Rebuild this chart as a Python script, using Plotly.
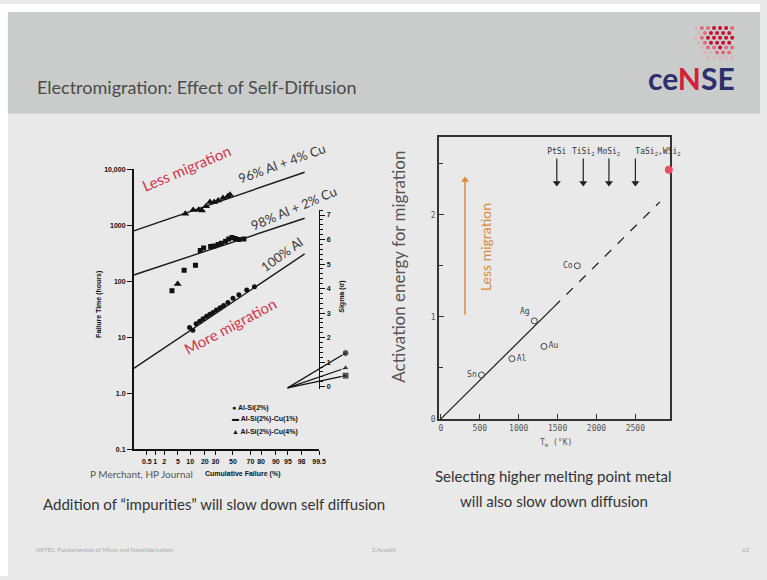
import plotly.graph_objects as go
from statistics import NormalDist

W, H = 767, 580
nd = NormalDist()

def z(p):
    return nd.inv_cdf(p / 100.0)

def px(x):
    return x / W

def py(y):
    return 1 - y / H

# ---------------- Left chart data (failure time vs cumulative failure) ----------------
pct_ticks = [0.5, 1, 2, 5, 10, 20, 30, 50, 70, 80, 90, 95, 98, 99.5]
pct_tick_text = ["0.5", "1", "2", "5", "10", "20", "30", "50", "70", "80", "90", "95", "98", "99.5"]
hrs_ticks = [0.1, 1, 10, 100, 1000, 10000]
hrs_tick_text = ["0.1", "1.0", "10", "100", "1000", "10,000"]

# Al-Si(2%)  (circles)
pct_circ = [9.7, 11.5, 13.5, 16, 18.5, 21.5, 24.5, 27.5, 31, 35, 39, 44, 50, 57, 66, 74]
hrs_circ = [15, 13.5, 17.5, 19.5, 21.5, 24, 26, 28, 31, 34, 37, 42, 50, 58, 70, 80]
# Al-Si(2%)-Cu(1%)  (squares)
pct_sq = [3.4, 7.2, 13.1, 16.4, 19, 25.2, 28.4, 32.9, 36.4, 41.2, 45, 48.8, 52.7, 57.2, 62.8]
hrs_sq = [68, 158, 194, 356, 397, 419, 431, 454, 479, 519, 571, 610, 586, 562, 571]
# Al-Si(2%)-Cu(4%)  (triangles)
pct_tri = [4.9, 7.7, 11.7, 15.3, 17.7, 21.1, 24.6, 28.8, 32.9, 38.3, 43.9, 46.5]
hrs_tri = [90, 1610, 1875, 1900, 1850, 2200, 2620, 2620, 2780, 3090, 3300, 3540]

# fitted lines (start / end)
pct_fit = [0.15, 98.4]
hrs_fit_4cu = [800, 8900]
hrs_fit_2cu = [130, 1340]
hrs_fit_al = [2.8, 310]

# sigma inset
sigma_vals = [1.37, 0.76, 0.45]
sigma_symbols = ["circle", "triangle-up", "square"]

# ---------------- Right chart data (activation energy vs Tm) ----------------
metals = ["Sn", "Al", "Ag", "Au", "Co"]
tm_metal = [522, 913, 1201, 1325, 1754]
ea_metal = [0.43, 0.59, 0.96, 0.71, 1.50]
metal_label_pos = ["middle left", "middle right", "top left", "middle right", "middle left"]

tm_fit_solid = [0, 1450]
ea_fit_solid = [0, 1.095]
tm_fit_dash = [1450, 2815]
ea_fit_dash = [1.095, 2.126]

silicides = ["PtSi", "TiSi<sub>2</sub>", "MoSi<sub>2</sub>", "TaSi<sub>2</sub>,WSi<sub>2</sub>"]
tm_silicide = [1490, 1830, 2160, 2500]
silicide_arrow_y = [2.55, 2.31]   # arrow tail / head
less_arrow_tm = 310
less_arrow_y = [1.02, 2.34]        # arrow tail / head

tm_ticks = [0, 500, 1000, 1500, 2000, 2500]
ea_ticks = [0, 1, 2]

fig = go.Figure()

# ---- left chart traces
for hrs_fit in (hrs_fit_4cu, hrs_fit_2cu, hrs_fit_al):
    fig.add_trace(go.Scatter(x=[z(p) for p in pct_fit], y=hrs_fit, mode="lines",
                             line=dict(color="#1a1a1a", width=1.4), xaxis="x", yaxis="y"))
fig.add_trace(go.Scatter(x=[z(p) for p in pct_circ], y=hrs_circ, mode="markers",
                         marker=dict(symbol="circle", size=5, color="#111"), xaxis="x", yaxis="y"))
fig.add_trace(go.Scatter(x=[z(p) for p in pct_sq], y=hrs_sq, mode="markers",
                         marker=dict(symbol="square", size=5, color="#111"), xaxis="x", yaxis="y"))
fig.add_trace(go.Scatter(x=[z(p) for p in pct_tri], y=hrs_tri, mode="markers",
                         marker=dict(symbol="triangle-up", size=7, color="#111"), xaxis="x", yaxis="y"))

# ---- sigma inset (fan lines)
for s, sym in zip(sigma_vals, sigma_symbols):
    fig.add_trace(go.Scatter(x=[0.07, 0.85], y=[-0.05, s], mode="lines+markers",
                             line=dict(color="#111", width=1.2),
                             marker=dict(symbol=["circle", sym], size=[0, 7], color="#111"),
                             xaxis="x3", yaxis="y3"))

# ---- right chart traces
fig.add_trace(go.Scatter(x=tm_fit_solid, y=ea_fit_solid, mode="lines",
                         line=dict(color="#222", width=1.3), xaxis="x2", yaxis="y2"))
fig.add_trace(go.Scatter(x=tm_fit_dash, y=ea_fit_dash, mode="lines",
                         line=dict(color="#222", width=1.3, dash="dash"), xaxis="x2", yaxis="y2"))
fig.add_trace(go.Scatter(x=tm_metal, y=ea_metal, mode="markers+text", text=metals,
                         textposition=metal_label_pos,
                         textfont=dict(family="DejaVu Sans Mono", size=8, color="#444"),
                         marker=dict(symbol="circle-open", size=6, color="#444", line=dict(width=1)),
                         xaxis="x2", yaxis="y2"))
# silicide arrows (shafts, then heads)
for t in tm_silicide:
    fig.add_trace(go.Scatter(x=[t, t], y=silicide_arrow_y, mode="lines",
                             line=dict(color="#222", width=1.2), xaxis="x2", yaxis="y2"))
fig.add_trace(go.Scatter(x=tm_silicide, y=[silicide_arrow_y[1]] * len(tm_silicide), mode="markers",
                         marker=dict(symbol="triangle-down", size=7, color="#222"),
                         cliponaxis=False, xaxis="x2", yaxis="y2"))
fig.add_trace(go.Scatter(x=tm_silicide, y=[2.615] * len(tm_silicide), mode="text",
                         text=silicides, textposition=["middle center"] * 3 + ["middle right"],
                         textfont=dict(family="DejaVu Sans Mono", size=8, color="#333"),
                         cliponaxis=False, xaxis="x2", yaxis="y2"))
# orange "less migration" arrow
fig.add_trace(go.Scatter(x=[less_arrow_tm, less_arrow_tm], y=less_arrow_y, mode="lines",
                         line=dict(color="#e08a3c", width=1.5), xaxis="x2", yaxis="y2"))
fig.add_trace(go.Scatter(x=[less_arrow_tm], y=[less_arrow_y[1]], mode="markers",
                         marker=dict(symbol="triangle-up", size=7, color="#e08a3c"),
                         cliponaxis=False, xaxis="x2", yaxis="y2"))

# ---- logo dots (decorative)
dot_x, dot_y, dot_c = [], [], []
for r in range(8):
    for c in range(8):
        xx = c + (r % 2) * 0.5
        yy = r * 0.87
        d = ((xx - 5.6) ** 2 + (yy - 4.8) ** 2) ** 0.5
        if d < 4.6 and xx + yy > 4.0:
            dot_x.append(xx)
            dot_y.append(yy)
            dot_c.append("#c8102e" if d < 2.2 else ("#e06b7d" if d < 3.4 else "#d9b5bc"))
fig.add_trace(go.Scatter(x=dot_x, y=dot_y, mode="markers",
                         marker=dict(size=4, color=dot_c), xaxis="x4", yaxis="y4"))

axis_common = dict(showgrid=False, zeroline=False)
small_bold = dict(family="Liberation Sans", size=7, color="#111")

fig.update_layout(
    width=W, height=H, margin=dict(l=0, r=0, t=0, b=0),
    paper_bgcolor="#e9e9e9", plot_bgcolor="rgba(0,0,0,0)", showlegend=False,
    hovermode=False,
    xaxis=dict(domain=[px(135), px(322)], range=[z(0.15), z(99.5)],
               tickvals=[z(p) for p in pct_ticks], ticktext=["<b>%s</b>" % t for t in pct_tick_text],
               tickfont=small_bold, tickangle=0,
               showline=True, linecolor="#111", linewidth=1.6, ticks="outside", ticklen=4,
               tickcolor="#111", anchor="y", **axis_common),
    yaxis=dict(domain=[py(451.7), py(167.7)], type="log", range=[-1, 4],
               tickvals=hrs_ticks, ticktext=["<b>%s</b>" % t for t in hrs_tick_text],
               tickfont=small_bold,
               showline=True, linecolor="#111", linewidth=1.6, ticks="outside", ticklen=5,
               tickcolor="#111", anchor="x", **axis_common),
    xaxis3=dict(domain=[px(285), px(360)], range=[0, 1], visible=False, anchor="y3"),
    yaxis3=dict(domain=[py(390.5), py(209)], range=[-0.1, 7.2], anchor="free", position=px(322),
                side="right", tickvals=list(range(8)),
                ticktext=["<b>%d</b>" % i for i in range(8)],
                tickfont=small_bold,
                showline=True, linecolor="#111", linewidth=1.4, ticks="outside", ticklen=5,
                tickcolor="#111",
                minor=dict(dtick=0.2, ticks="outside", ticklen=3, tickcolor="#111"),
                **axis_common),
    xaxis2=dict(domain=[px(443), px(676)], range=[-25, 2943], tickvals=tm_ticks,
                tickfont=dict(family="DejaVu Sans Mono", size=8, color="#555"),
                showline=True, mirror=True, linecolor="#333", linewidth=1.5,
                ticks="inside", ticklen=5, tickcolor="#333", anchor="y2", **axis_common),
    yaxis2=dict(domain=[py(421), py(135)], range=[-0.003, 2.76], tickvals=ea_ticks,
                tickfont=dict(family="DejaVu Sans Mono", size=8, color="#555"),
                showline=True, mirror=True, linecolor="#333", linewidth=1.5,
                ticks="inside", ticklen=5, tickcolor="#333",
                minor=dict(dtick=0.5, ticks="inside", ticklen=4, tickcolor="#333"),
                anchor="x2", **axis_common),
    xaxis4=dict(domain=[px(690), px(742)], range=[-0.5, 8], visible=False, anchor="y4"),
    yaxis4=dict(domain=[py(62), py(22)], range=[-0.5, 6.5], visible=False, anchor="x4"),
)

shapes = [
    dict(type="rect", xref="paper", yref="paper", x0=0, x1=1, y0=py(8), y1=1,
         fillcolor="white", line=dict(width=0), layer="below"),
    dict(type="rect", xref="paper", yref="paper", x0=0, x1=px(8), y0=0, y1=1,
         fillcolor="white", line=dict(width=0), layer="below"),
    dict(type="rect", xref="paper", yref="paper", x0=px(8), x1=1, y0=py(111), y1=py(8),
         fillcolor="#c9cccb", line=dict(width=0), layer="below"),
    dict(type="circle", xref="paper", yref="paper", x0=px(671), x1=px(679), y0=py(172), y1=py(164),
         fillcolor="#ec4c62", line=dict(width=0)),
]
fig.update_layout(shapes=shapes)

ann = []
def txt(x, y, s, size=12, color="#3c3c3c", family="Lato", angle=0, xanchor="center", yanchor="middle"):
    ann.append(dict(x=px(x), y=py(y), xref="paper", yref="paper", text=s, showarrow=False,
                    font=dict(size=size, color=color, family=family), textangle=angle,
                    xanchor=xanchor, yanchor=yanchor))

# title + logo
txt(35, 84, "Electromigration: Effect of Self-Diffusion", size=18, color="#4a4a4a", xanchor="left")
txt(698, 75, "<b><span style='color:#2c2f6b'>ce</span><span style='color:#d0213d'>N</span>"
    "<span style='color:#2c2f6b'>SE</span></b>", size=30)

# left chart texts
txt(188, 166, "Less migration", size=15, color="#d0354a", angle=-23)
txt(285, 161, "96% Al + 4% Cu", size=13, color="#3a3a3a", angle=-20)
txt(297, 207, "98% Al + 2% Cu", size=13, color="#3a3a3a", angle=-23)
txt(285, 254, "100% Al", size=13, color="#3a3a3a", angle=-36)
txt(232, 326, "More migration", size=15, color="#d0354a", angle=-28)
txt(100, 305, "<b>Failure Time (hours)</b>", **small_bold, angle=-90)
txt(345, 297, "<b>Sigma (σ)</b>", **small_bold, angle=-90)
txt(232, 410, "<b>● Al-Si(2%)</b>", **small_bold, xanchor="left")
txt(232, 421, "<b>▬ Al-Si(2%)-Cu(1%)</b>", **small_bold, xanchor="left")
txt(232, 434, "<b>▲ Al-Si(2%)-Cu(4%)</b>", **small_bold, xanchor="left")
txt(89, 477, "P Merchant, HP Journal", size=10, color="#555", xanchor="left")
txt(245, 477, "<b>Cumulative Failure (%)</b>", size=7, color="#111", family="Liberation Sans")
txt(216, 507, "Addition of “impurities” will slow down self diffusion", size=15, color="#333")

# right chart texts
txt(402, 266, "Activation energy for migration", size=17, color="#555", angle=-90)
txt(490, 247, "Less migration", size=14, color="#d98b3a", angle=-90)
txt(561, 445, "T<sub>m</sub> (°K)", size=8, color="#555", family="DejaVu Sans Mono")
txt(559, 479, "Selecting higher melting point metal", size=15, color="#333")
txt(559, 504, "will also slow down diffusion", size=15, color="#333")

# footer
txt(34, 553, "NPTEL: Fundamentals of Micro and Nanofabrication", size=6, color="#aaa", xanchor="left")
txt(388, 553, "S.Avasthi", size=6, color="#aaa")
txt(752, 553, "63", size=6, color="#aaa")

fig.update_layout(annotations=ann)
fig.write_html("out.html", config={"displayModeBar": False},
               post_script="document.body.style.margin='0';document.body.style.overflow='hidden';")
